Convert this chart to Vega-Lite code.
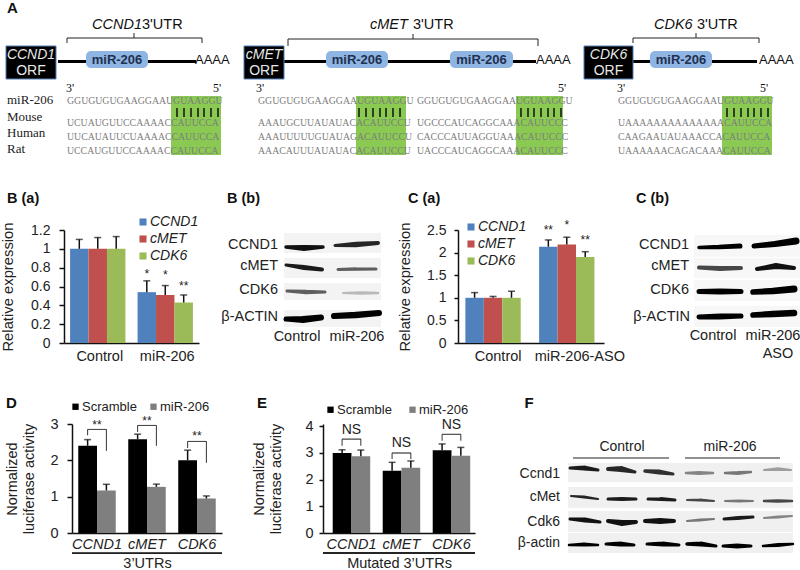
{"$schema":"https://vega.github.io/schema/vega-lite/v6.json","padding":0,"background":"white","spacing":194,"bounds":"flush",
"config":{"font":"Liberation Sans","view":{"stroke":null},"axis":{"grid":false,"domainColor":"#111111","domainWidth":1.5,"tickColor":"#111111","tickWidth":1.5,"labelColor":"#222222","titleColor":"#222222","titleFontWeight":"normal"},"legend":{"labelColor":"#222222"}},
"vconcat":[
{"width":800,"height":36,
"layer":[
{"data":{"values":[{"x":170,"x2":220,"y":96,"y2":155},{"x":355,"x2":405,"y":96,"y2":155},{"x":515,"x2":562,"y":96,"y2":155},{"x":721,"x2":771,"y":96,"y2":155}]},"mark":{"type":"rect","color":"#8aca52"},
"encoding":{"x":{"field":"x","type":"quantitative","scale":{"domain":[0,800],"nice":false},"axis":null},"x2":{"field":"x2"},"y":{"field":"y","type":"quantitative","scale":{"domain":[0,36],"reverse":true,"nice":false},"axis":null},"y2":{"field":"y2"}}},
{"data":{"values":[{"x":57,"x2":195,"y":61.5},{"x":283,"x2":535,"y":61.5},{"x":632,"x2":756,"y":61.5}]},"mark":{"type":"rule","color":"#000000","strokeWidth":3},
"encoding":{"x":{"field":"x","type":"quantitative"},"x2":{"field":"x2"},"y":{"field":"y","type":"quantitative"}}},
{"data":{"values":[{"x":5,"x2":55,"y":46,"y2":79},{"x":243,"x2":283,"y":46,"y2":79},{"x":583,"x2":632,"y":46,"y2":79}]},"mark":{"type":"rect","color":"#000000","stroke":"#4f7fb5","strokeWidth":1},
"encoding":{"x":{"field":"x","type":"quantitative"},"x2":{"field":"x2"},"y":{"field":"y","type":"quantitative"},"y2":{"field":"y2"}}},
{"data":{"values":[{"x":85,"x2":147,"y":51,"y2":68},{"x":325,"x2":387,"y":51,"y2":68},{"x":449,"x2":512,"y":51,"y2":68},{"x":649,"x2":711,"y":51,"y2":68}]},"mark":{"type":"rect","color":"#8fb5e3","cornerRadius":5},
"encoding":{"x":{"field":"x","type":"quantitative"},"x2":{"field":"x2"},"y":{"field":"y","type":"quantitative"},"y2":{"field":"y2"}}},
{"data":{"values":[{"x":66,"x2":201,"y":38},{"x":287,"x2":537,"y":39},{"x":632,"x2":758,"y":38}]},"mark":{"type":"rule","color":"#222222","strokeWidth":1},
"encoding":{"x":{"field":"x","type":"quantitative"},"x2":{"field":"x2"},"y":{"field":"y","type":"quantitative"}}},
{"data":{"values":[{"x":66,"y":38,"y2":43},{"x":201,"y":38,"y2":43},{"x":133,"y":33,"y2":38},{"x":287,"y":39,"y2":46},{"x":537,"y":39,"y2":46},{"x":412,"y":34,"y2":39},{"x":632,"y":38,"y2":43},{"x":758,"y":38,"y2":43},{"x":695,"y":33,"y2":38}]},"mark":{"type":"rule","color":"#222222","strokeWidth":1},
"encoding":{"x":{"field":"x","type":"quantitative"},"y":{"field":"y","type":"quantitative"},"y2":{"field":"y2"}}},
{"data":{"values":[{"x":176},{"x":183},{"x":190},{"x":197},{"x":203},{"x":210},{"x":217},{"x":358},{"x":365},{"x":372},{"x":379},{"x":385},{"x":392},{"x":399},{"x":520},{"x":527},{"x":533},{"x":540},{"x":547},{"x":553},{"x":560},{"x":726},{"x":733},{"x":740},{"x":747},{"x":753},{"x":760},{"x":767}]},"mark":{"type":"rule","color":"#111111","strokeWidth":1.5},
"encoding":{"x":{"field":"x","type":"quantitative"},"y":{"datum":108},"y2":{"datum":117}}},
{"data":{"values":[
{"x":66,"y":101,"t":"GGUGUGUGAAGGAAUGUAAGGU"},{"x":66,"y":123,"t":"UCUAUGUUCCAAAACCAUUCCA"},{"x":66,"y":137,"t":"UUCAUAUUCUAAAACCAUUCCA"},{"x":66,"y":151,"t":"UCCAUGUUCCAAAACCAUUCCA"},
{"x":257,"y":101,"t":"GGUGUGUGAAGGAAUGUAAGGU"},{"x":257,"y":123,"t":"AAAUGCUUAUAUACACAUUCCU"},{"x":257,"y":137,"t":"AAAUUUUUGUAUAGACAUUCCU"},{"x":257,"y":151,"t":"AAACAUUUAUAUACACAUUCCU"},
{"x":416,"y":101,"t":"GGUGUGUGAAGGAAUGUAAGGU"},{"x":416,"y":123,"t":"UGCCCAUCAGGCAAACAUUCCC"},{"x":416,"y":137,"t":"CACCCAUUAGGUAAACAUUCCC"},{"x":416,"y":151,"t":"UACCCAUCAGGCAAACAUUCCC"},
{"x":617,"y":101,"t":"GGUGUGUGAAGGAAUGUAAGGU"},{"x":617,"y":123,"t":"UAAAAAAAAAAAAAACAUUCCA"},{"x":617,"y":137,"t":"CAAGAAUAUAAACCACAUUCCA"},{"x":617,"y":151,"t":"UAAAAAACAGACAAACAUUCCA"}]},
"mark":{"type":"text","font":"Liberation Serif","fontSize":9.8,"align":"left","color":"#7d7d7d"},
"encoding":{"x":{"field":"x","type":"quantitative"},"y":{"field":"y","type":"quantitative"},"text":{"field":"t"}}},
{"data":{"values":[{"x":6,"y":100,"t":"miR-206"},{"x":6,"y":117,"t":"Mouse"},{"x":6,"y":133,"t":"Human"},{"x":6,"y":149,"t":"Rat"}]},
"mark":{"type":"text","font":"Liberation Serif","fontSize":13,"align":"left","color":"#222222"},
"encoding":{"x":{"field":"x","type":"quantitative"},"y":{"field":"y","type":"quantitative"},"text":{"field":"t"}}},
{"data":{"values":[{"x":65,"y":88,"t":"3'"},{"x":212,"y":88,"t":"5'"},{"x":255,"y":88,"t":"3'"},{"x":557,"y":88,"t":"5'"},{"x":616,"y":88,"t":"3'"},{"x":759,"y":88,"t":"5'"}]},
"mark":{"type":"text","font":"Liberation Serif","fontSize":12,"align":"left","color":"#111111"},
"encoding":{"x":{"field":"x","type":"quantitative"},"y":{"field":"y","type":"quantitative"},"text":{"field":"t"}}},
{"data":{"values":[{"x":30,"y":55,"t":"CCND1"},{"x":263,"y":55,"t":"cMET"},{"x":607.5,"y":55,"t":"CDK6"}]},
"mark":{"type":"text","fontSize":14,"fontStyle":"italic","align":"center","color":"#e8e8e8"},
"encoding":{"x":{"field":"x","type":"quantitative"},"y":{"field":"y","type":"quantitative"},"text":{"field":"t"}}},
{"data":{"values":[{"x":30,"y":71,"t":"ORF"},{"x":263,"y":71,"t":"ORF"},{"x":607.5,"y":71,"t":"ORF"}]},
"mark":{"type":"text","fontSize":14,"align":"center","color":"#e8e8e8"},
"encoding":{"x":{"field":"x","type":"quantitative"},"y":{"field":"y","type":"quantitative"},"text":{"field":"t"}}},
{"data":{"values":[{"x":116,"y":59.5,"t":"miR-206"},{"x":356,"y":59.5,"t":"miR-206"},{"x":480.5,"y":59.5,"t":"miR-206"},{"x":680,"y":59.5,"t":"miR-206"}]},
"mark":{"type":"text","fontSize":13,"fontWeight":"bold","align":"center","color":"#1f3050"},
"encoding":{"x":{"field":"x","type":"quantitative"},"y":{"field":"y","type":"quantitative"},"text":{"field":"t"}}},
{"data":{"values":[{"x":194,"y":60,"t":"AAAA"},{"x":535,"y":60,"t":"AAAA"},{"x":758,"y":60,"t":"AAAA"}]},
"mark":{"type":"text","fontSize":13,"align":"left","color":"#111111"},
"encoding":{"x":{"field":"x","type":"quantitative"},"y":{"field":"y","type":"quantitative"},"text":{"field":"t"}}},
{"data":{"values":[{"x":91,"y":25,"t":"CCND1"},{"x":369,"y":25,"t":"cMET"},{"x":653,"y":25,"t":"CDK6"}]},
"mark":{"type":"text","fontSize":14.5,"fontStyle":"italic","align":"left","color":"#111111"},
"encoding":{"x":{"field":"x","type":"quantitative"},"y":{"field":"y","type":"quantitative"},"text":{"field":"t"}}},
{"data":{"values":[{"x":141,"y":25,"t":"3'UTR"},{"x":412,"y":25,"t":"3'UTR"},{"x":696,"y":25,"t":"3'UTR"}]},
"mark":{"type":"text","fontSize":14.5,"align":"left","color":"#111111"},
"encoding":{"x":{"field":"x","type":"quantitative"},"y":{"field":"y","type":"quantitative"},"text":{"field":"t"}}},
{"data":{"values":[{"x":6,"y":8,"t":"A"}]},
"mark":{"type":"text","fontSize":15,"fontWeight":"bold","align":"left","color":"#111111"},
"encoding":{"x":{"field":"x","type":"quantitative"},"y":{"field":"y","type":"quantitative"},"text":{"field":"t"}}}
]},
{"spacing":0,"bounds":"flush","hconcat":[
{"width":63,"height":113,"data":{"values":[{"x":6,"y":199,"t":"B (a)"}]},"mark":{"type":"text","fontSize":14.5,"fontWeight":"bold","align":"left","color":"#111111"},
"encoding":{"x":{"field":"x","type":"quantitative","scale":{"domain":[0,63],"nice":false},"axis":null},"y":{"field":"y","type":"quantitative","scale":{"domain":[230,343],"reverse":true,"nice":false},"axis":null},"text":{"field":"t"}}},
{"width":135,"height":113,
"data":{"values":[
{"group":"Control","series":"CCND1","value":1,"top":1.1,"star":"","starY":0},
{"group":"Control","series":"cMET","value":1,"top":1.12,"star":"","starY":0},
{"group":"Control","series":"CDK6","value":1,"top":1.13,"star":"","starY":0},
{"group":"miR-206","series":"CCND1","value":0.54,"top":0.66,"star":"*","starY":0.73},
{"group":"miR-206","series":"cMET","value":0.51,"top":0.61,"star":"*","starY":0.72},
{"group":"miR-206","series":"CDK6","value":0.43,"top":0.51,"star":"**","starY":0.61}]},
"layer":[
{"mark":{"type":"bar"},"encoding":{
"x":{"field":"group","type":"nominal","title":null,"scale":{"type":"band","domain":["Control","miR-206"],"paddingInner":0.18,"paddingOuter":0.09},"axis":{"labelAngle":0,"ticks":false,"labelFontSize":14.5,"labelPadding":6,"labelOffset":2}},
"xOffset":{"field":"series","type":"nominal","scale":{"domain":["CCND1","cMET","CDK6"]}},
"y":{"field":"value","type":"quantitative","title":"Relative expression","scale":{"domain":[0,1.2],"nice":false},"axis":{"tickCount":7,"labelExpr":"datum.value + ''","labelOverlap":false,"labelFontSize":14,"labelPadding":9,"tickSize":5,"titleFontSize":14.8,"titleX":-49}},
"color":{"field":"series","type":"nominal","scale":{"domain":["CCND1","cMET","CDK6"],"range":["#4f81bd","#c0504d","#9bbb59"]},"legend":{"orient":"none","legendX":72,"legendY":-15,"title":null,"symbolType":"square","symbolSize":50,"labelFontSize":14,"labelFontStyle":"italic","rowPadding":3,"labelOffset":0,"padding":0}}}},
{"mark":{"type":"rule","color":"#111111","strokeWidth":1.5},"encoding":{"x":{"field":"group","type":"nominal"},"xOffset":{"field":"series","type":"nominal"},"y":{"field":"value","type":"quantitative"},"y2":{"field":"top"}}},
{"mark":{"type":"tick","color":"#111111","size":7,"thickness":1.5},"encoding":{"x":{"field":"group","type":"nominal"},"xOffset":{"field":"series","type":"nominal"},"y":{"field":"top","type":"quantitative"}}},
{"mark":{"type":"text","fontSize":12,"color":"#222222"},"encoding":{"x":{"field":"group","type":"nominal"},"xOffset":{"field":"series","type":"nominal"},"y":{"field":"starY","type":"quantitative"},"text":{"field":"star"}}}
]},
{"width":259,"height":113,
"layer":[
{"data":{"values":[{"x":283,"x2":380,"y":233,"y2":253},{"x":283,"x2":380,"y":258,"y2":278},{"x":283,"x2":380,"y":283,"y2":300},{"x":283,"x2":380,"y":310,"y2":327}]},"mark":{"type":"rect","color":"#f3f3f3"},
"encoding":{"x":{"field":"x","type":"quantitative","scale":{"domain":[198,457],"nice":false},"axis":null},"x2":{"field":"x2"},"y":{"field":"y","type":"quantitative","scale":{"domain":[230,343],"reverse":true,"nice":false},"axis":null},"y2":{"field":"y2"}}},
{"data":{"values":[
{"b":"a","d":0.95,"x":285,"y":247,"t":3.5},{"b":"a","d":0.95,"x":303,"y":248,"t":6},{"b":"a","d":0.95,"x":322,"y":247,"t":3.5},
{"b":"b","d":0.85,"x":334,"y":245.5,"t":3},{"b":"b","d":0.85,"x":355,"y":244.5,"t":5.5},{"b":"b","d":0.85,"x":377,"y":243,"t":4},
{"b":"c","d":0.9,"x":285,"y":265,"t":3},{"b":"c","d":0.9,"x":303,"y":267.5,"t":5},{"b":"c","d":0.9,"x":321,"y":269.5,"t":4},
{"b":"e","d":0.6,"x":337,"y":269.5,"t":3},{"b":"e","d":0.6,"x":355,"y":269,"t":3.5},{"b":"e","d":0.6,"x":375,"y":269,"t":3},
{"b":"f","d":0.6,"x":286,"y":291,"t":3},{"b":"f","d":0.6,"x":305,"y":292,"t":4.5},{"b":"f","d":0.6,"x":324,"y":292,"t":3},
{"b":"g","d":0.25,"x":342,"y":293,"t":2},{"b":"g","d":0.25,"x":360,"y":293,"t":3.5},{"b":"g","d":0.25,"x":377,"y":293,"t":2.5},
{"b":"h","d":1,"x":285,"y":319,"t":5},{"b":"h","d":1,"x":302,"y":319.5,"t":7},{"b":"h","d":1,"x":320,"y":317.5,"t":6},
{"b":"i","d":1,"x":333,"y":316,"t":6},{"b":"i","d":1,"x":355,"y":315,"t":6.5},{"b":"i","d":1,"x":378,"y":313,"t":6}]},
"mark":{"type":"trail"},"encoding":{"x":{"field":"x","type":"quantitative"},"y":{"field":"y","type":"quantitative"},"detail":{"field":"b"},"size":{"field":"t","type":"quantitative","scale":{"domain":[0,10],"range":[0,10]},"legend":null},"color":{"field":"d","type":"quantitative","scale":{"domain":[0,1],"range":["#ffffff","#000000"]},"legend":null}}},
{"data":{"values":[{"x":277,"y":245,"t":"CCND1"},{"x":277,"y":266,"t":"cMET"},{"x":277,"y":290,"t":"CDK6"},{"x":277,"y":317,"t":"β-ACTIN"}]},"mark":{"type":"text","fontSize":14.5,"align":"right","color":"#222222"},
"encoding":{"x":{"field":"x","type":"quantitative"},"y":{"field":"y","type":"quantitative"},"text":{"field":"t"}}},
{"data":{"values":[{"x":296,"y":337,"t":"Control"},{"x":356,"y":337,"t":"miR-206"}]},"mark":{"type":"text","fontSize":14.5,"align":"center","color":"#222222"},
"encoding":{"x":{"field":"x","type":"quantitative"},"y":{"field":"y","type":"quantitative"},"text":{"field":"t"}}},
{"data":{"values":[{"x":226,"y":199,"t":"B (b)"},{"x":407,"y":199,"t":"C (a)"}]},"mark":{"type":"text","fontSize":14.5,"fontWeight":"bold","align":"left","color":"#111111"},
"encoding":{"x":{"field":"x","type":"quantitative"},"y":{"field":"y","type":"quantitative"},"text":{"field":"t"}}}
]},
{"width":146,"height":113,
"data":{"values":[
{"group":"Control","series":"CCND1","value":1,"top":1.115,"star":"","starY":0},
{"group":"Control","series":"cMET","value":1,"top":1.03,"star":"","starY":0},
{"group":"Control","series":"CDK6","value":1,"top":1.145,"star":"","starY":0},
{"group":"miR-206-ASO","series":"CCND1","value":2.13,"top":2.28,"star":"**","starY":2.5},
{"group":"miR-206-ASO","series":"cMET","value":2.18,"top":2.34,"star":"*","starY":2.62},
{"group":"miR-206-ASO","series":"CDK6","value":1.9,"top":2.02,"star":"**","starY":2.27}]},
"layer":[
{"mark":{"type":"bar"},"encoding":{
"x":{"field":"group","type":"nominal","title":null,"scale":{"type":"band","domain":["Control","miR-206-ASO"],"paddingInner":0.22,"paddingOuter":0.1},"axis":{"labelAngle":0,"ticks":false,"labelFontSize":14.5,"labelPadding":6,"labelOffset":{"condition":{"test":"datum.value === 'Control'","value":4},"value":12}}},
"xOffset":{"field":"series","type":"nominal","scale":{"domain":["CCND1","cMET","CDK6"]}},
"y":{"field":"value","type":"quantitative","title":"Relative expression","scale":{"domain":[0,2.5],"nice":false},"axis":{"tickCount":6,"labelExpr":"datum.value + ''","labelOverlap":false,"labelFontSize":14,"labelPadding":8,"tickSize":4,"titleFontSize":14.8,"titleX":-46}},
"color":{"field":"series","type":"nominal","scale":{"domain":["CCND1","cMET","CDK6"],"range":["#4f81bd","#c0504d","#9bbb59"]},"legend":{"orient":"none","legendX":6,"legendY":-10,"title":null,"symbolType":"square","symbolSize":50,"labelFontSize":14,"labelFontStyle":"italic","rowPadding":3,"labelOffset":0,"padding":0}}}},
{"mark":{"type":"rule","color":"#111111","strokeWidth":1.5},"encoding":{"x":{"field":"group","type":"nominal"},"xOffset":{"field":"series","type":"nominal"},"y":{"field":"value","type":"quantitative"},"y2":{"field":"top"}}},
{"mark":{"type":"tick","color":"#111111","size":7,"thickness":1.5},"encoding":{"x":{"field":"group","type":"nominal"},"xOffset":{"field":"series","type":"nominal"},"y":{"field":"top","type":"quantitative"}}},
{"mark":{"type":"text","fontSize":12,"color":"#222222"},"encoding":{"x":{"field":"group","type":"nominal"},"xOffset":{"field":"series","type":"nominal"},"y":{"field":"starY","type":"quantitative"},"text":{"field":"star"}}}
]},
{"width":197,"height":113,
"layer":[
{"data":{"values":[{"x":693,"x2":800,"y":235,"y2":257},{"x":693,"x2":800,"y":258,"y2":278},{"x":693,"x2":800,"y":280,"y2":301},{"x":693,"x2":800,"y":306,"y2":327}]},"mark":{"type":"rect","color":"#f7f7f7"},
"encoding":{"x":{"field":"x","type":"quantitative","scale":{"domain":[603,800],"nice":false},"axis":null},"x2":{"field":"x2"},"y":{"field":"y","type":"quantitative","scale":{"domain":[230,343],"reverse":true,"nice":false},"axis":null},"y2":{"field":"y2"}}},
{"data":{"values":[
{"b":"a","d":1,"x":698,"y":247.5,"t":3.5},{"b":"a","d":1,"x":718,"y":247,"t":4.5},{"b":"a","d":1,"x":739,"y":246,"t":5},
{"b":"b","d":1,"x":753,"y":246,"t":5},{"b":"b","d":1,"x":774,"y":244,"t":6},{"b":"b","d":1,"x":795,"y":241,"t":7},
{"b":"c","d":0.7,"x":698,"y":267.5,"t":4},{"b":"c","d":0.7,"x":719,"y":268.5,"t":5},{"b":"c","d":0.7,"x":740,"y":268,"t":4},
{"b":"e","d":0.95,"x":756,"y":269,"t":4},{"b":"e","d":0.95,"x":775,"y":266,"t":6},{"b":"e","d":0.95,"x":793,"y":268,"t":4},
{"b":"f","d":1,"x":698,"y":291.5,"t":5},{"b":"f","d":1,"x":719,"y":291.5,"t":6},{"b":"f","d":1,"x":740,"y":291.5,"t":5},
{"b":"g","d":1,"x":752,"y":292,"t":5.5},{"b":"g","d":1,"x":772,"y":291,"t":6.5},{"b":"g","d":1,"x":793,"y":289,"t":7},
{"b":"h","d":1,"x":698,"y":317,"t":5},{"b":"h","d":1,"x":719,"y":316.5,"t":6},{"b":"h","d":1,"x":740,"y":316,"t":5},
{"b":"i","d":1,"x":752,"y":315,"t":5.5},{"b":"i","d":1,"x":772,"y":314,"t":6.5},{"b":"i","d":1,"x":793,"y":313,"t":6.5}]},
"mark":{"type":"trail"},"encoding":{"x":{"field":"x","type":"quantitative"},"y":{"field":"y","type":"quantitative"},"detail":{"field":"b"},"size":{"field":"t","type":"quantitative","scale":{"domain":[0,10],"range":[0,10]},"legend":null},"color":{"field":"d","type":"quantitative","scale":{"domain":[0,1],"range":["#ffffff","#000000"]},"legend":null}}},
{"data":{"values":[{"x":688,"y":245,"t":"CCND1"},{"x":688,"y":266,"t":"cMET"},{"x":688,"y":290,"t":"CDK6"},{"x":689,"y":317,"t":"β-ACTIN"}]},"mark":{"type":"text","fontSize":14.5,"align":"right","color":"#222222"},
"encoding":{"x":{"field":"x","type":"quantitative"},"y":{"field":"y","type":"quantitative"},"text":{"field":"t"}}},
{"data":{"values":[{"x":712,"y":336,"t":"Control"},{"x":772,"y":336,"t":"miR-206"},{"x":777,"y":354,"t":"ASO"}]},"mark":{"type":"text","fontSize":14.5,"align":"center","color":"#222222"},
"encoding":{"x":{"field":"x","type":"quantitative"},"y":{"field":"y","type":"quantitative"},"text":{"field":"t"}}},
{"data":{"values":[{"x":635,"y":199,"t":"C (b)"}]},"mark":{"type":"text","fontSize":14.5,"fontWeight":"bold","align":"left","color":"#111111"},
"encoding":{"x":{"field":"x","type":"quantitative"},"y":{"field":"y","type":"quantitative"},"text":{"field":"t"}}}
]}
]},
{"spacing":0,"bounds":"flush","hconcat":[
{"width":71,"height":109,"data":{"values":[{"x":5,"y":403,"t":"D"}]},"mark":{"type":"text","fontSize":15,"fontWeight":"bold","align":"left","color":"#111111"},
"encoding":{"x":{"field":"x","type":"quantitative","scale":{"domain":[0,71],"nice":false},"axis":null},"y":{"field":"y","type":"quantitative","scale":{"domain":[424,533],"reverse":true,"nice":false},"axis":null},"text":{"field":"t"}}},
{"width":150,"height":109,
"resolve":{"scale":{"xOffset":"independent"}},
"data":{"values":[
{"gene":"CCND1","series":"Scramble","mid":"pair","value":2.4,"top":2.57,"leg":2.69,"bracket":2.85,"sig":"**","sigY":2.96},
{"gene":"CCND1","series":"miR-206","mid":"pair","value":1.17,"top":1.34,"leg":2.26,"bracket":2.85,"sig":"**","sigY":2.96},
{"gene":"cMET","series":"Scramble","mid":"pair","value":2.58,"top":2.72,"leg":2.78,"bracket":2.96,"sig":"**","sigY":3.08},
{"gene":"cMET","series":"miR-206","mid":"pair","value":1.27,"top":1.345,"leg":2.4,"bracket":2.96,"sig":"**","sigY":3.08},
{"gene":"CDK6","series":"Scramble","mid":"pair","value":2,"top":2.28,"leg":2.34,"bracket":2.52,"sig":"**","sigY":2.67},
{"gene":"CDK6","series":"miR-206","mid":"pair","value":0.95,"top":1.02,"leg":1.93,"bracket":2.52,"sig":"**","sigY":2.67}]},
"layer":[
{"layer":[
{"mark":{"type":"bar"},"encoding":{
"x":{"field":"gene","type":"nominal","title":"3’UTRs","scale":{"type":"band","domain":["CCND1","cMET","CDK6"],"paddingInner":0.25,"paddingOuter":0.125},"axis":{"labelAngle":0,"ticks":false,"labelFontSize":14.5,"labelFontStyle":"italic","labelPadding":4,"titleFontSize":14.5,"titlePadding":6}},
"xOffset":{"field":"series","type":"nominal","scale":{"domain":["Scramble","miR-206"]}},
"y":{"field":"value","type":"quantitative","title":["Normalized","luciferase activity"],"scale":{"domain":[0,3],"nice":false},"axis":{"tickCount":4,"labelExpr":"datum.value + ''","labelOverlap":false,"labelFontSize":14.5,"labelPadding":9,"tickSize":5,"titleFontSize":14.5,"titleLineHeight":17,"titleX":-53}},
"color":{"field":"series","type":"nominal","scale":{"domain":["Scramble","miR-206"],"range":["#000000","#7f7f7f"]},"legend":{"orient":"none","legendX":-3,"legendY":-24,"direction":"horizontal","title":null,"symbolType":"square","symbolSize":40,"labelFontSize":13,"columnPadding":10,"labelOffset":0,"padding":0}}}},
{"mark":{"type":"rule","color":"#111111","strokeWidth":1.5},"encoding":{"x":{"field":"gene","type":"nominal"},"xOffset":{"field":"series","type":"nominal"},"y":{"field":"value","type":"quantitative"},"y2":{"field":"top"}}},
{"mark":{"type":"tick","color":"#111111","size":7,"thickness":1.5},"encoding":{"x":{"field":"gene","type":"nominal"},"xOffset":{"field":"series","type":"nominal"},"y":{"field":"top","type":"quantitative"}}},
{"mark":{"type":"rule","color":"#333333","strokeWidth":1},"encoding":{"x":{"field":"gene","type":"nominal"},"xOffset":{"field":"series","type":"nominal"},"y":{"field":"leg","type":"quantitative"},"y2":{"field":"bracket"}}}
]},
{"mark":{"type":"tick","color":"#333333","size":19,"thickness":1},"encoding":{"x":{"field":"gene","type":"nominal"},"xOffset":{"field":"mid","type":"nominal"},"y":{"field":"bracket","type":"quantitative"}}},
{"mark":{"type":"text","fontSize":12,"color":"#222222"},"transform":[{"filter":"datum.series === 'Scramble'"}],"encoding":{"x":{"field":"gene","type":"nominal"},"xOffset":{"field":"mid","type":"nominal"},"y":{"field":"sigY","type":"quantitative"},"text":{"field":"sig"}}},
{"mark":{"type":"rule","color":"#222222","strokeWidth":1},"encoding":{"y":{"datum":-0.558}}}
]},
{"width":101,"height":109,"data":{"values":[{"x":256,"y":403,"t":"E"}]},"mark":{"type":"text","fontSize":15,"fontWeight":"bold","align":"left","color":"#111111"},
"encoding":{"x":{"field":"x","type":"quantitative","scale":{"domain":[221,322],"nice":false},"axis":null},"y":{"field":"y","type":"quantitative","scale":{"domain":[424,533],"reverse":true,"nice":false},"axis":null},"text":{"field":"t"}}},
{"width":152,"height":109,
"resolve":{"scale":{"xOffset":"independent"}},
"data":{"values":[
{"gene":"CCND1","series":"Scramble","mid":"pair","value":3,"top":3.12,"bracket":3.52,"leg":3.27,"sig":"NS","sigY":3.86},
{"gene":"CCND1","series":"miR-206","mid":"pair","value":2.88,"top":3.11,"bracket":3.52,"leg":3.27,"sig":"NS","sigY":3.86},
{"gene":"cMET","series":"Scramble","mid":"pair","value":2.33,"top":2.65,"bracket":3,"leg":2.77,"sig":"NS","sigY":3.39},
{"gene":"cMET","series":"miR-206","mid":"pair","value":2.45,"top":2.7,"bracket":3,"leg":2.77,"sig":"NS","sigY":3.39},
{"gene":"CDK6","series":"Scramble","mid":"pair","value":3.1,"top":3.34,"bracket":3.7,"leg":3.46,"sig":"NS","sigY":4.05},
{"gene":"CDK6","series":"miR-206","mid":"pair","value":2.9,"top":3.21,"bracket":3.7,"leg":3.46,"sig":"NS","sigY":4.05}]},
"layer":[
{"layer":[
{"mark":{"type":"bar"},"encoding":{
"x":{"field":"gene","type":"nominal","title":"Mutated 3’UTRs","scale":{"type":"band","domain":["CCND1","cMET","CDK6"],"paddingInner":0.25,"paddingOuter":0.145,"align":0.67},"axis":{"labelAngle":0,"ticks":false,"labelFontSize":14.5,"labelFontStyle":"italic","labelPadding":4,"titleFontSize":14.5,"titlePadding":6}},
"xOffset":{"field":"series","type":"nominal","scale":{"domain":["Scramble","miR-206"]}},
"y":{"field":"value","type":"quantitative","title":["Normalized","luciferase activity"],"scale":{"domain":[0,4.087],"nice":false},"axis":{"tickCount":5,"labelExpr":"datum.value + ''","labelOverlap":false,"labelFontSize":14.5,"labelPadding":6,"tickSize":4,"titleFontSize":14.5,"titleLineHeight":17,"titleX":-57}},
"color":{"field":"series","type":"nominal","scale":{"domain":["Scramble","miR-206"],"range":["#000000","#7f7f7f"]},"legend":{"orient":"none","legendX":1,"legendY":-21,"direction":"horizontal","title":null,"symbolType":"square","symbolSize":40,"labelFontSize":13,"columnPadding":14,"labelOffset":0,"padding":0}}}},
{"mark":{"type":"rule","color":"#111111","strokeWidth":1.5},"encoding":{"x":{"field":"gene","type":"nominal"},"xOffset":{"field":"series","type":"nominal"},"y":{"field":"value","type":"quantitative"},"y2":{"field":"top"}}},
{"mark":{"type":"tick","color":"#111111","size":7,"thickness":1.5},"encoding":{"x":{"field":"gene","type":"nominal"},"xOffset":{"field":"series","type":"nominal"},"y":{"field":"top","type":"quantitative"}}},
{"mark":{"type":"rule","color":"#333333","strokeWidth":1},"encoding":{"x":{"field":"gene","type":"nominal"},"xOffset":{"field":"series","type":"nominal"},"y":{"field":"leg","type":"quantitative"},"y2":{"field":"bracket"}}}
]},
{"mark":{"type":"tick","color":"#333333","size":19,"thickness":1},"encoding":{"x":{"field":"gene","type":"nominal"},"xOffset":{"field":"mid","type":"nominal"},"y":{"field":"bracket","type":"quantitative"}}},
{"mark":{"type":"text","fontSize":14,"color":"#222222"},"transform":[{"filter":"datum.series === 'Scramble'"}],"encoding":{"x":{"field":"gene","type":"nominal"},"xOffset":{"field":"mid","type":"nominal"},"y":{"field":"sigY","type":"quantitative"},"text":{"field":"sig"}}},
{"mark":{"type":"rule","color":"#222222","strokeWidth":1},"encoding":{"y":{"datum":-0.75}}}
]},
{"width":326,"height":109,
"layer":[
{"data":{"values":[{"x":567,"x2":792,"y":463,"y2":482},{"x":567,"x2":792,"y":487,"y2":508},{"x":567,"x2":792,"y":511,"y2":532},{"x":567,"x2":792,"y":533,"y2":553}]},"mark":{"type":"rect","color":"#f0f0f0"},
"encoding":{"x":{"field":"x","type":"quantitative","scale":{"domain":[474,800],"nice":false},"axis":null},"x2":{"field":"x2"},"y":{"field":"y","type":"quantitative","scale":{"domain":[424,533],"reverse":true,"nice":false},"axis":null},"y2":{"field":"y2"}}},
{"data":{"values":[
{"b":"a1","d":0.9,"x":569,"y":468,"t":3},{"b":"a1","d":0.9,"x":583,"y":468,"t":5},{"b":"a1","d":0.9,"x":597,"y":470,"t":3},
{"b":"a2","d":0.85,"x":607,"y":469,"t":4},{"b":"a2","d":0.85,"x":620,"y":469,"t":6},{"b":"a2","d":0.85,"x":634,"y":472,"t":3},
{"b":"a3","d":0.8,"x":644,"y":471,"t":3.5},{"b":"a3","d":0.8,"x":658,"y":472,"t":5},{"b":"a3","d":0.8,"x":672,"y":474,"t":3},
{"b":"a4","d":0.45,"x":685,"y":473,"t":2.5},{"b":"a4","d":0.45,"x":698,"y":473,"t":4},{"b":"a4","d":0.45,"x":712,"y":473,"t":2.5},
{"b":"a5","d":0.5,"x":724,"y":473,"t":2.5},{"b":"a5","d":0.5,"x":737,"y":473,"t":4},{"b":"a5","d":0.5,"x":750,"y":472,"t":2.5},
{"b":"a6","d":0.35,"x":763,"y":470,"t":2},{"b":"a6","d":0.35,"x":777,"y":469,"t":3.5},{"b":"a6","d":0.35,"x":790,"y":470,"t":2},
{"b":"b1","d":0.85,"x":570,"y":496,"t":2},{"b":"b1","d":0.85,"x":583,"y":497,"t":3},{"b":"b1","d":0.85,"x":597,"y":499,"t":2},
{"b":"b2","d":0.9,"x":607,"y":499,"t":3},{"b":"b2","d":0.9,"x":621,"y":499,"t":4},{"b":"b2","d":0.9,"x":635,"y":499,"t":3},
{"b":"b3","d":0.9,"x":647,"y":499,"t":3},{"b":"b3","d":0.9,"x":660,"y":499,"t":4},{"b":"b3","d":0.9,"x":674,"y":500,"t":3},
{"b":"b4","d":0.7,"x":686,"y":500,"t":2},{"b":"b4","d":0.7,"x":699,"y":500,"t":3},{"b":"b4","d":0.7,"x":713,"y":501,"t":2},
{"b":"b5","d":0.5,"x":724,"y":501,"t":2},{"b":"b5","d":0.5,"x":738,"y":501,"t":3},{"b":"b5","d":0.5,"x":752,"y":501,"t":2},
{"b":"b6","d":0.7,"x":763,"y":501,"t":2.5},{"b":"b6","d":0.7,"x":777,"y":501,"t":3.5},{"b":"b6","d":0.7,"x":791,"y":501,"t":2.5},
{"b":"c1","d":0.95,"x":569,"y":519,"t":3},{"b":"c1","d":0.95,"x":584,"y":520,"t":5},{"b":"c1","d":0.95,"x":599,"y":522,"t":3},
{"b":"c2","d":0.95,"x":607,"y":521,"t":4},{"b":"c2","d":0.95,"x":621,"y":523,"t":6},{"b":"c2","d":0.95,"x":635,"y":522,"t":4},
{"b":"c3","d":0.95,"x":644,"y":521,"t":4},{"b":"c3","d":0.95,"x":659,"y":521,"t":6},{"b":"c3","d":0.95,"x":673,"y":521,"t":4},
{"b":"c4","d":0.5,"x":686,"y":521,"t":2},{"b":"c4","d":0.5,"x":699,"y":520,"t":3},{"b":"c4","d":0.5,"x":713,"y":519,"t":2},
{"b":"c5","d":0.9,"x":723,"y":519,"t":3},{"b":"c5","d":0.9,"x":737,"y":518,"t":4},{"b":"c5","d":0.9,"x":752,"y":517,"t":3},
{"b":"c6","d":0.45,"x":763,"y":518,"t":2},{"b":"c6","d":0.45,"x":777,"y":517,"t":3},{"b":"c6","d":0.45,"x":791,"y":516,"t":2},
{"b":"d1","d":1,"x":568,"y":545,"t":2.5},{"b":"d1","d":1,"x":583,"y":544.5,"t":4},{"b":"d1","d":1,"x":597,"y":545,"t":2.5},
{"b":"d2","d":1,"x":605,"y":544,"t":3},{"b":"d2","d":1,"x":619,"y":544,"t":5},{"b":"d2","d":1,"x":633,"y":545,"t":3},
{"b":"d3","d":1,"x":646,"y":544,"t":3},{"b":"d3","d":1,"x":662,"y":544,"t":5},{"b":"d3","d":1,"x":678,"y":545,"t":3},
{"b":"d4","d":1,"x":686,"y":544,"t":3.5},{"b":"d4","d":1,"x":700,"y":544,"t":5},{"b":"d4","d":1,"x":715,"y":546,"t":3},
{"b":"d5","d":1,"x":722,"y":546,"t":3},{"b":"d5","d":1,"x":736,"y":546,"t":5},{"b":"d5","d":1,"x":750,"y":546,"t":3},
{"b":"d6","d":1,"x":762,"y":546,"t":2.5},{"b":"d6","d":1,"x":777,"y":545,"t":4},{"b":"d6","d":1,"x":792,"y":544,"t":2.5}]},
"mark":{"type":"trail"},"encoding":{"x":{"field":"x","type":"quantitative"},"y":{"field":"y","type":"quantitative"},"detail":{"field":"b"},"size":{"field":"t","type":"quantitative","scale":{"domain":[0,10],"range":[0,10]},"legend":null},"color":{"field":"d","type":"quantitative","scale":{"domain":[0,1],"range":["#ffffff","#000000"]},"legend":null}}},
{"data":{"values":[{"x":572,"x2":668,"y":458},{"x":684,"x2":779,"y":458}]},"mark":{"type":"rule","color":"#222222","strokeWidth":1},
"encoding":{"x":{"field":"x","type":"quantitative"},"x2":{"field":"x2"},"y":{"field":"y","type":"quantitative"}}},
{"data":{"values":[{"x":559,"y":474,"t":"Ccnd1"},{"x":559,"y":497,"t":"cMet"},{"x":559,"y":522,"t":"Cdk6"},{"x":559,"y":543,"t":"β-actin"}]},"mark":{"type":"text","fontSize":14,"align":"right","color":"#222222"},
"encoding":{"x":{"field":"x","type":"quantitative"},"y":{"field":"y","type":"quantitative"},"text":{"field":"t"}}},
{"data":{"values":[{"x":621,"y":447,"t":"Control"},{"x":729,"y":447,"t":"miR-206"}]},"mark":{"type":"text","fontSize":14,"align":"center","color":"#222222"},
"encoding":{"x":{"field":"x","type":"quantitative"},"y":{"field":"y","type":"quantitative"},"text":{"field":"t"}}},
{"data":{"values":[{"x":528,"y":403,"t":"F"}]},"mark":{"type":"text","fontSize":15,"fontWeight":"bold","align":"center","color":"#111111"},
"encoding":{"x":{"field":"x","type":"quantitative"},"y":{"field":"y","type":"quantitative"},"text":{"field":"t"}}}
]}
]}
]}
